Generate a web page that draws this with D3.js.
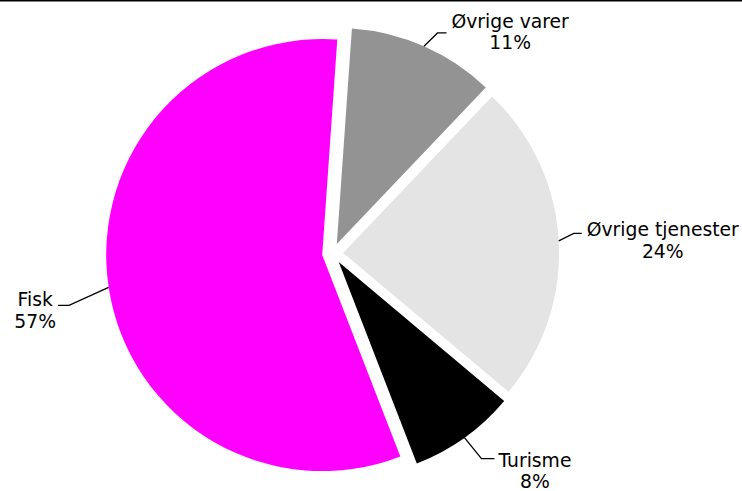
<!DOCTYPE html>
<html>
<head>
<meta charset="utf-8">
<script src="https://cdn.jsdelivr.net/npm/d3@7"></script>
<style>
  html, body { margin: 0; padding: 0; background: #fff; }
  svg { display: block; }
  text { font-family: "DejaVu Sans", Verdana, sans-serif; font-size: 18.75px; fill: #000; }
</style>
</head>
<body>
<svg id="chart" width="742" height="491"></svg>
<script>
// ---- data ----
const categories = ["Øvrige varer", "Øvrige tjenester", "Turisme", "Fisk"];
const values = [11, 24, 8, 57];
const percentLabels = ["11%", "24%", "8%", "57%"];
const colors = ["#939393", "#e4e4e4", "#000000", "#ff00ff"];

// ---- layout (label leader geometry, not data) ----
const labelLayout = [
  { elbow: [13.5, -13.3], run: 9,   gap: 5, base: -5.3 },
  { elbow: [15, -7.5],    run: 8,   gap: 5, base: 3 },
  { elbow: [17, 21],      run: 13,  gap: 4, base: 8 },
  { elbow: [-39.6, 18],   run: -11, gap: 2, base: 1 }
];

const W = 742, H = 491;
const cx = 332.6, cy = 253.5, R = 216, explode = 10.5;
const startAngle = 4 * Math.PI / 180;

const svg = d3.select("#chart");

// top rule
svg.append("line")
  .attr("x1", 0).attr("x2", W).attr("y1", 0.75).attr("y2", 0.75)
  .attr("stroke", "#000").attr("stroke-width", 1.5);

const pie = d3.pie().sort(null).value(d => d)
  .startAngle(startAngle).endAngle(startAngle + 2 * Math.PI);
const arcs = pie(values);
const arc = d3.arc().innerRadius(0).outerRadius(R);

const g = svg.append("g").attr("transform", `translate(${cx},${cy})`);

function offset(a) {
  const m = (a.startAngle + a.endAngle) / 2;
  return [explode * Math.sin(m), -explode * Math.cos(m)];
}

g.selectAll("path.slice").data(arcs).enter().append("path")
  .attr("class", "slice")
  .attr("d", arc)
  .attr("transform", d => { const o = offset(d); return `translate(${o[0]},${o[1]})`; })
  .attr("fill", (d, i) => colors[i]);

// labels with leader lines
arcs.forEach((a, i) => {
  const m = (a.startAngle + a.endAngle) / 2;
  const o = offset(a);
  const sx = o[0] + R * Math.sin(m), sy = o[1] - R * Math.cos(m);
  const L = labelLayout[i];
  const ex = sx + L.elbow[0], ey = sy + L.elbow[1];
  const lx = ex + L.run, ly = ey;
  g.append("polyline")
    .attr("points", [[sx, sy], [ex, ey], [lx, ly]].map(p => p.join(",")).join(" "))
    .attr("fill", "none").attr("stroke", "#000").attr("stroke-width", 1.3);

  const t = g.append("text").attr("text-anchor", "middle");
  const t1 = t.append("tspan").text(categories[i]);
  const t2 = t.append("tspan").text(percentLabels[i]);
  const w = Math.max(t1.node().getComputedTextLength(), t2.node().getComputedTextLength());
  const dir = L.run >= 0 ? 1 : -1;
  const centerX = lx + dir * (L.gap + w / 2);
  const b1 = ly + L.base;
  t1.attr("x", centerX).attr("y", b1);
  t2.attr("x", centerX).attr("y", b1 + 21.3);
});
</script>
</body>
</html>
